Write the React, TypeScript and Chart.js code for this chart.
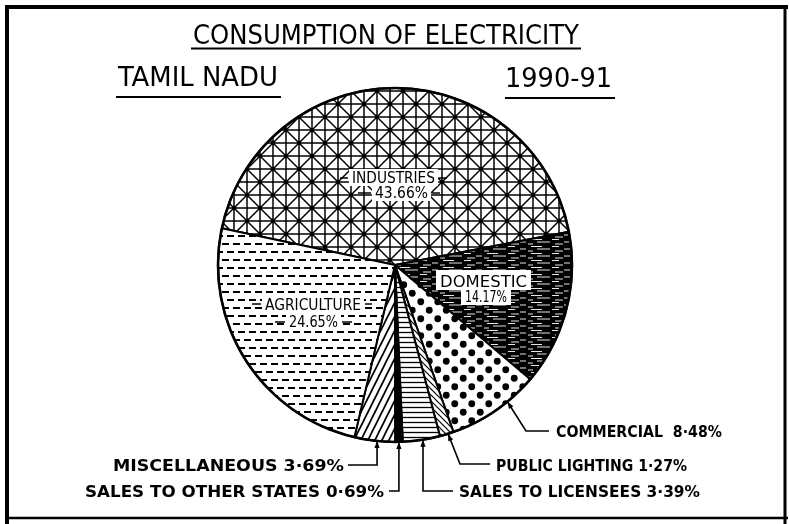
import React, { useEffect, useRef } from 'react';
import { Chart, registerables } from 'chart.js';

Chart.register(...registerables);

// ---- data ----
const categories = [
  'INDUSTRIES',
  'DOMESTIC',
  'COMMERCIAL',
  'PUBLIC LIGHTING',
  'SALES TO LICENSEES',
  'SALES TO OTHER STATES',
  'MISCELLANEOUS',
  'AGRICULTURE',
];
const shares = [43.66, 14.17, 8.48, 1.27, 3.39, 0.69, 3.69, 24.65];
const shareText = ['43.66%', '14.17%', '8·48%', '1·27%', '3·39%', '0·69%', '3·69%', '24.65%'];
const titleText = 'CONSUMPTION OF ELECTRICITY';
const regionText = 'TAMIL NADU';
const yearText = '1990-91';

// ---- styles ----
const fillKinds = ['grid', 'dark', 'dots', 'back', 'horiz', 'solid', 'fwd', 'dash'];

function tile(w: number, h: number, draw: (g: CanvasRenderingContext2D) => void): CanvasPattern | string {
  const c = document.createElement('canvas');
  c.width = w;
  c.height = h;
  const g = c.getContext('2d')!;
  g.fillStyle = '#fff';
  g.fillRect(0, 0, w, h);
  g.strokeStyle = '#000';
  g.fillStyle = '#000';
  draw(g);
  const p = g.createPattern(c, 'repeat');
  return p || '#888';
}

function line(g: CanvasRenderingContext2D, x1: number, y1: number, x2: number, y2: number) {
  g.beginPath();
  g.moveTo(x1, y1);
  g.lineTo(x2, y2);
  g.stroke();
}

function makeFill(kind: string): CanvasPattern | string {
  if (kind === 'grid') {
    const s = 26;
    const h = s / 2;
    return tile(s, s, (g) => {
      g.lineWidth = 1.5;
      for (const v of [0, h, s]) {
        line(g, v, -2, v, s + 2);
        line(g, -2, v, s + 2, v);
      }
      for (const o of [-s, 0, s]) {
        line(g, o - 2, -2, o + s + 2, s + 2);
        line(g, o + s + 2, -2, o - 2, s + 2);
      }
      for (const [cx, cy] of [[0, 0], [s, 0], [0, s], [s, s], [h, h]]) {
        g.beginPath();
        g.arc(cx, cy, 2.2, 0, Math.PI * 2);
        g.fill();
      }
    });
  }
  if (kind === 'dark') {
    return tile(44, 7, (g) => {
      g.fillRect(0, 0, 44, 7);
      g.strokeStyle = '#fff';
      g.lineWidth = 0.9;
      line(g, 3, 1.5, 14, 1.5);
      line(g, 24, 1.5, 31, 1.5);
      line(g, 9, 4, 22, 4);
      line(g, 36, 4, 42, 4);
      line(g, 0, 6, 5, 6);
      line(g, 27, 6, 35, 6);
    });
  }
  if (kind === 'dots') {
    return tile(17, 17, (g) => {
      for (const [cx, cy] of [[4.25, 4.25], [12.75, 12.75]]) {
        g.beginPath();
        g.arc(cx, cy, 3.4, 0, Math.PI * 2);
        g.fill();
      }
    });
  }
  if (kind === 'back') {
    return tile(6, 6, (g) => {
      g.lineWidth = 1.2;
      for (const o of [-6, 0, 6]) line(g, o - 1, -1, o + 7, 7);
    });
  }
  if (kind === 'horiz') {
    return tile(6, 5, (g) => {
      g.lineWidth = 1.3;
      line(g, 0, 2.5, 6, 2.5);
    });
  }
  if (kind === 'fwd') {
    return tile(7, 14, (g) => {
      g.lineWidth = 1.7;
      for (const o of [-7, 0, 7]) line(g, o - 1, 16, o + 8, -2);
    });
  }
  if (kind === 'dash') {
    return tile(22, 16, (g) => {
      g.lineWidth = 2;
      line(g, 2, 4, 9, 4);
      line(g, 13, 4, 20, 4);
      line(g, 7, 12, 14, 12);
      line(g, 18, 12, 22, 12);
      line(g, 0, 12, 3, 12);
    });
  }
  return '#000';
}

// draw text fitted between x1 and x2 on a baseline
function fitText(ctx: CanvasRenderingContext2D, text: string, x1: number, x2: number, base: number, font: string) {
  ctx.font = font;
  ctx.textAlign = 'left';
  ctx.textBaseline = 'alphabetic';
  const w = ctx.measureText(text).width;
  ctx.save();
  ctx.translate(x1, base);
  ctx.scale((x2 - x1) / w, 1);
  ctx.fillText(text, 0, 0);
  ctx.restore();
}

function seg(ctx: CanvasRenderingContext2D, pts: number[][], lw: number) {
  ctx.lineWidth = lw;
  ctx.beginPath();
  ctx.moveTo(pts[0][0], pts[0][1]);
  for (let i = 1; i < pts.length; i++) ctx.lineTo(pts[i][0], pts[i][1]);
  ctx.stroke();
}

function arrowHead(ctx: CanvasRenderingContext2D, tip: number[], from: number[]) {
  const dx = tip[0] - from[0];
  const dy = tip[1] - from[1];
  const L = Math.hypot(dx, dy) || 1;
  const ux = dx / L;
  const uy = dy / L;
  const len = 7;
  const hw = 2.6;
  ctx.beginPath();
  ctx.moveTo(tip[0], tip[1]);
  ctx.lineTo(tip[0] - ux * len - uy * hw, tip[1] - uy * len + ux * hw);
  ctx.lineTo(tip[0] - ux * len + uy * hw, tip[1] - uy * len - ux * hw);
  ctx.closePath();
  ctx.fill();
}

const TITLE_FONT = '27px "DejaVu Sans Condensed", "DejaVu Sans", sans-serif';
const INNER_FONT = '15px "DejaVu Sans Condensed", "DejaVu Sans", sans-serif';
const OUTER_FONT = 'bold 15px "DejaVu Sans", sans-serif';

const decor = {
  id: 'decor',
  beforeDraw(chart: any) {
    const ctx = chart.ctx as CanvasRenderingContext2D;
    ctx.save();
    ctx.fillStyle = '#fff';
    ctx.fillRect(0, 0, chart.width, chart.height);
    ctx.restore();
  },
  afterDatasetsDraw(chart: any) {
    const ctx = chart.ctx as CanvasRenderingContext2D;
    const arc = chart.getDatasetMeta(0).data[0];
    ctx.save();
    ctx.strokeStyle = '#000';
    ctx.lineWidth = 2.6;
    ctx.beginPath();
    ctx.arc(arc.x, arc.y, arc.outerRadius, 0, Math.PI * 2);
    ctx.stroke();
    ctx.restore();
  },
  afterDraw(chart: any) {
    const ctx = chart.ctx as CanvasRenderingContext2D;
    const meta = chart.getDatasetMeta(0);
    const anchor = (i: number, t: number) => {
      const a = meta.data[i];
      const ang = a.startAngle + t * (a.endAngle - a.startAngle);
      return [a.x + a.outerRadius * Math.cos(ang), a.y + a.outerRadius * Math.sin(ang)];
    };
    ctx.save();
    ctx.fillStyle = '#000';
    ctx.strokeStyle = '#000';
    ctx.lineCap = 'butt';

    // frame
    seg(ctx, [[5, 7], [788, 7]], 4);
    seg(ctx, [[7, 5], [7, 524]], 4);
    seg(ctx, [[785, 5], [785, 524]], 3);
    seg(ctx, [[5, 518], [788, 518]], 2.5);

    // headings
    fitText(ctx, titleText, 193, 579, 44, TITLE_FONT);
    seg(ctx, [[191, 48.5], [581, 48.5]], 2);
    fitText(ctx, regionText, 118, 278, 86, TITLE_FONT);
    seg(ctx, [[116, 97], [281, 97]], 2);
    fitText(ctx, yearText, 505, 612, 87, TITLE_FONT);
    seg(ctx, [[505, 98], [615, 98]], 2);

    // inner labels with white boxes
    const box = (x1: number, y1: number, x2: number, y2: number) => {
      ctx.fillStyle = '#fff';
      ctx.fillRect(x1, y1, x2 - x1, y2 - y1);
      ctx.fillStyle = '#000';
    };
    // industries
    box(349, 169, 438, 186);
    box(372, 186, 431, 201);
    fitText(ctx, categories[0], 352, 435, 183, INNER_FONT);
    fitText(ctx, shareText[0], 375, 428, 198, INNER_FONT);
    seg(ctx, [[340, 178], [348, 178]], 1.5);
    seg(ctx, [[439, 178], [447, 178]], 1.5);
    seg(ctx, [[358, 193], [371, 193]], 1.5);
    seg(ctx, [[432, 193], [440, 193]], 1.5);
    // domestic
    box(436, 270, 531, 290);
    box(461, 289, 511, 305);
    fitText(ctx, categories[1], 440, 527, 287, INNER_FONT);
    fitText(ctx, shareText[1], 465, 507, 302, INNER_FONT);
    // agriculture
    box(262, 296, 364, 313);
    box(286, 314, 341, 330);
    fitText(ctx, categories[7], 265, 361, 310, INNER_FONT);
    fitText(ctx, shareText[7], 289, 338, 327, INNER_FONT);
    seg(ctx, [[252, 304], [261, 304]], 1.5);
    seg(ctx, [[365, 304], [372, 304]], 1.5);
    seg(ctx, [[275, 322], [285, 322]], 1.5);
    seg(ctx, [[342, 322], [352, 322]], 1.5);

    // outer labels with leader lines
    const lw = 1.6;
    // commercial
    let p = anchor(2, 0.34);
    seg(ctx, [p, [526, 431], [549, 431]], lw);
    arrowHead(ctx, p, [526, 431]);
    fitText(ctx, categories[2] + '  ' + shareText[2], 556, 722, 437, OUTER_FONT);
    // public lighting
    p = anchor(3, 0.4);
    seg(ctx, [p, [460, 464], [490, 464]], lw);
    arrowHead(ctx, p, [460, 464]);
    fitText(ctx, categories[3] + ' ' + shareText[3], 496, 687, 471, OUTER_FONT);
    // sales to licensees
    p = anchor(4, 0.46);
    seg(ctx, [p, [p[0], 491], [453, 491]], lw);
    arrowHead(ctx, p, [p[0], 491]);
    fitText(ctx, categories[4] + ' ' + shareText[4], 459, 700, 497, OUTER_FONT);
    // sales to other states
    p = anchor(5, 0.5);
    seg(ctx, [p, [p[0], 491], [389, 491]], lw);
    arrowHead(ctx, p, [p[0], 491]);
    fitText(ctx, categories[5] + ' ' + shareText[5], 85, 384, 497, OUTER_FONT);
    // miscellaneous
    p = anchor(6, 0.44);
    seg(ctx, [p, [p[0], 465], [348, 465]], lw);
    arrowHead(ctx, p, [p[0], 465]);
    fitText(ctx, categories[6] + ' ' + shareText[6], 113, 344, 471, OUTER_FONT);

    ctx.restore();
  },
};

export default function App() {
  const ref = useRef<HTMLCanvasElement>(null);
  useEffect(() => {
    document.body.style.margin = '0';
    const canvas = ref.current!;
    const fills = fillKinds.map(makeFill);
    const chart = new Chart(canvas, {
      type: 'pie',
      data: {
        labels: categories,
        datasets: [
          {
            data: shares,
            backgroundColor: fills as any,
            borderColor: '#000',
            borderWidth: 2,
          },
        ],
      },
      options: {
        responsive: false,
        animation: false,
        devicePixelRatio: 1,
        rotation: -78,
        layout: { padding: { left: 217, right: 216, top: 87, bottom: 81 } },
        plugins: {
          legend: { display: false },
          tooltip: { enabled: false },
        },
      },
      plugins: [decor as any],
    });
    return () => chart.destroy();
  }, []);
  return (
    <div style={{ width: 789, height: 524 }}>
      <canvas ref={ref} width={789} height={524} style={{ display: 'block' }} />
    </div>
  );
}
